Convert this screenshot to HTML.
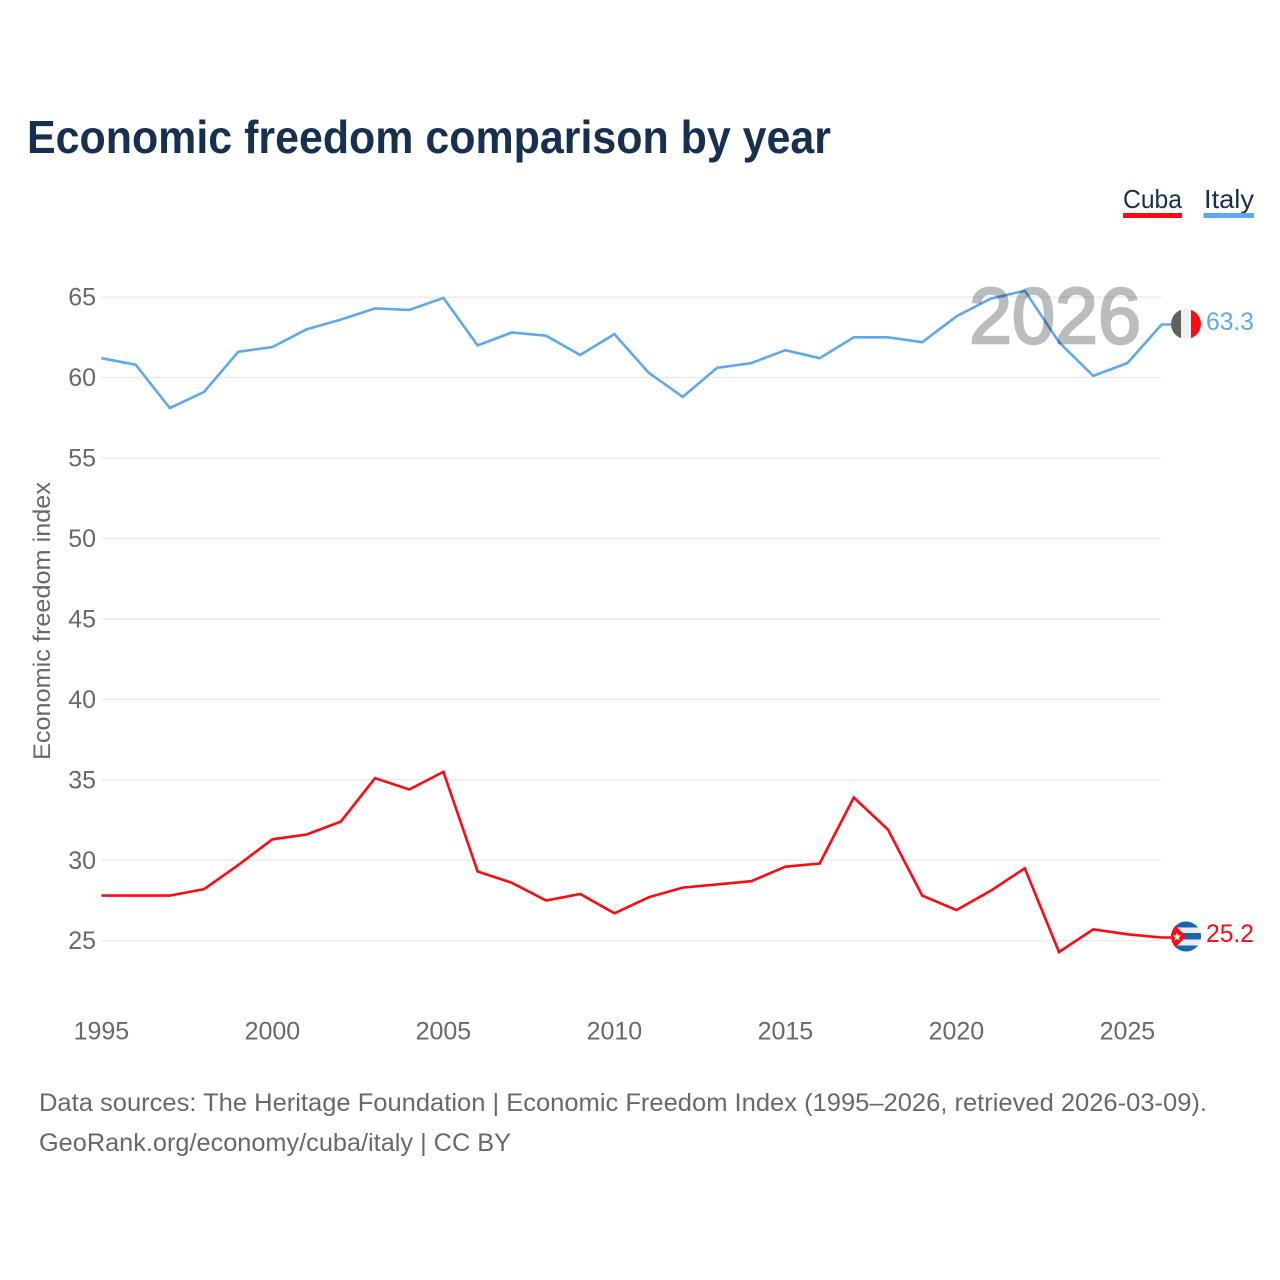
<!DOCTYPE html>
<html lang="en">
<head>
<meta charset="utf-8">
<title>Economic freedom comparison by year</title>
<style>
  html, body { margin: 0; padding: 0; background: #fff; }
  svg { display: block; font-family: "Liberation Sans", sans-serif; }
</style>
</head>
<body>
<svg id="chart" width="1280" height="1280" viewBox="0 0 1280 1280" xmlns="http://www.w3.org/2000/svg">
  <defs>
    <clipPath id="flag-clip-italy"><circle cx="1186" cy="324" r="15"></circle></clipPath>
    <clipPath id="flag-clip-cuba"><circle cx="1186" cy="936.5" r="15"></circle></clipPath>
  </defs>

  <text x="27" y="153" font-size="46" font-weight="700" fill="#17304f" textLength="804" lengthAdjust="spacingAndGlyphs">Economic freedom comparison by year</text>

  <g>
    <g>
      <text x="1123" y="208" font-size="26" fill="#17304f" textLength="59" lengthAdjust="spacingAndGlyphs">Cuba</text>
      <rect x="1123" y="213" width="59" height="5" fill="#ff0a14"></rect>
    </g>
    <g>
      <text x="1204" y="208" font-size="26" fill="#17304f" textLength="50" lengthAdjust="spacingAndGlyphs">Italy</text>
      <rect x="1203.500" y="213" width="50.500" height="5" fill="#60a8ee"></rect>
    </g>
  </g>

  <g id="grid"></g>
  <g id="y-ticks"></g>
  <g id="x-ticks"></g>

  <text transform="translate(50 621) rotate(-90)" text-anchor="middle" font-size="24" fill="#666a6b" textLength="278" lengthAdjust="spacingAndGlyphs">Economic freedom index</text>

  <g id="series"></g>

  <text x="969" y="343" font-size="79" fill="#bbbcbd" stroke="#bbbcbd" stroke-width="2.500" textLength="172" lengthAdjust="spacingAndGlyphs" style="mix-blend-mode:multiply">2026</text>

  <g>
    <g clip-path="url(#flag-clip-italy)">
      <rect x="1171" y="309" width="10" height="30" fill="#5f615f"></rect>
      <rect x="1181" y="309" width="10" height="30" fill="#efefef"></rect>
      <rect x="1191" y="309" width="10" height="30" fill="#ff0a14"></rect>
    </g>
  </g>
  <g>
    <g clip-path="url(#flag-clip-cuba)">
      <rect x="1171" y="921" width="30" height="31" fill="#ececec"></rect>
      <rect x="1171" y="921" width="30" height="6.500" fill="#1b63b5"></rect>
      <rect x="1171" y="933" width="30" height="6.500" fill="#1b63b5"></rect>
      <rect x="1171" y="945.500" width="30" height="6.500" fill="#1b63b5"></rect>
      <polygon points="1171,921 1186,936.500 1171,952" fill="#ff0a14"></polygon>
      <polygon points="1177,932.500 1178.200,935.400 1181,935.600 1178.900,937.600 1179.500,940.500 1177,939 1174.500,940.500 1175.100,937.600 1173,935.600 1175.800,935.400" fill="#efefef"></polygon>
    </g>
  </g>

  <text x="1206" y="330" font-size="25" fill="#60a8ee" textLength="48" lengthAdjust="spacingAndGlyphs">63.3</text>
  <text x="1206" y="942" font-size="25" fill="#ff0a14" textLength="48" lengthAdjust="spacingAndGlyphs">25.2</text>

  <text x="39" y="1111" font-size="25" fill="#666a6b" textLength="1168" lengthAdjust="spacingAndGlyphs">Data sources: The Heritage Foundation | Economic Freedom Index (1995–2026, retrieved 2026-03-09).</text>
  <text x="39" y="1151" font-size="25" fill="#666a6b" textLength="472" lengthAdjust="spacingAndGlyphs">GeoRank.org/economy/cuba/italy | CC BY</text>
</svg>

<script>
const years = [1995,1996,1997,1998,1999,2000,2001,2002,2003,2004,2005,2006,2007,2008,2009,2010,2011,2012,2013,2014,2015,2016,2017,2018,2019,2020,2021,2022,2023,2024,2025,2026];
const italyValues = [61.2,60.8,58.1,59.1,61.6,61.9,63.0,63.6,64.3,64.2,64.95,62.0,62.8,62.6,61.4,62.7,60.3,58.8,60.6,60.9,61.7,61.2,62.5,62.5,62.2,63.8,64.9,65.4,62.2,60.1,60.9,63.3];
const cubaValues = [27.8,27.8,27.8,28.2,29.7,31.3,31.6,32.4,35.1,34.4,35.5,29.3,28.6,27.5,27.9,26.7,27.7,28.3,28.5,28.7,29.6,29.8,33.9,31.9,27.8,26.9,28.1,29.5,24.3,25.7,25.4,25.2];
const yTickValues = [25,30,35,40,45,50,55,60,65];
const xTickValues = [1995,2000,2005,2010,2015,2020,2025];

const NS = 'http://www.w3.org/2000/svg';
const xScale = function (year) { return 101.4 + (year - 1995) * 34.2; };
const yScale = function (value) { return 940.7 - (value - 25) * 16.09; };

const gridGroup = document.getElementById('grid');
const yTickGroup = document.getElementById('y-ticks');
const xTickGroup = document.getElementById('x-ticks');
const seriesGroup = document.getElementById('series');

yTickValues.forEach(function (tick) {
  const line = document.createElementNS(NS, 'line');
  line.setAttribute('x1', xScale(1995));
  line.setAttribute('x2', xScale(2026));
  line.setAttribute('y1', yScale(tick));
  line.setAttribute('y2', yScale(tick));
  line.setAttribute('stroke', '#ececec');
  line.setAttribute('stroke-width', '1.5');
  
  
  gridGroup.appendChild(line);

  const label = document.createElementNS(NS, 'text');
  label.setAttribute('x', 96);
  label.setAttribute('y', yScale(tick) + 8.5);
  label.setAttribute('text-anchor', 'end');
  label.setAttribute('font-size', '25');
  label.setAttribute('fill', '#666a6b');
  label.textContent = tick;
  
  
  yTickGroup.appendChild(label);
});

xTickValues.forEach(function (tick) {
  const label = document.createElementNS(NS, 'text');
  label.setAttribute('x', xScale(tick));
  label.setAttribute('y', 1039.5);
  label.setAttribute('text-anchor', 'middle');
  label.setAttribute('font-size', '25');
  label.setAttribute('fill', '#666a6b');
  label.textContent = tick;
  
  
  xTickGroup.appendChild(label);
});

function drawSeries(values, color, name) {
  const lastY = yScale(values[values.length - 1]);
  const points = values.map(function (value, i) {
    return xScale(years[i]).toFixed(1) + ',' + yScale(value).toFixed(1);
  });
  points.push('1171,' + lastY.toFixed(1));
  const line = document.createElementNS(NS, 'polyline');
  line.setAttribute('points', points.join(' '));
  line.setAttribute('fill', 'none');
  line.setAttribute('stroke', color);
  line.setAttribute('stroke-width', '2.6');
  line.setAttribute('stroke-linejoin', 'miter');
  
  
  seriesGroup.appendChild(line);
}

drawSeries(cubaValues, '#ff0a14', 'line-cuba');
drawSeries(italyValues, '#60a8ee', 'line-italy');
</script>
</body>
</html>
